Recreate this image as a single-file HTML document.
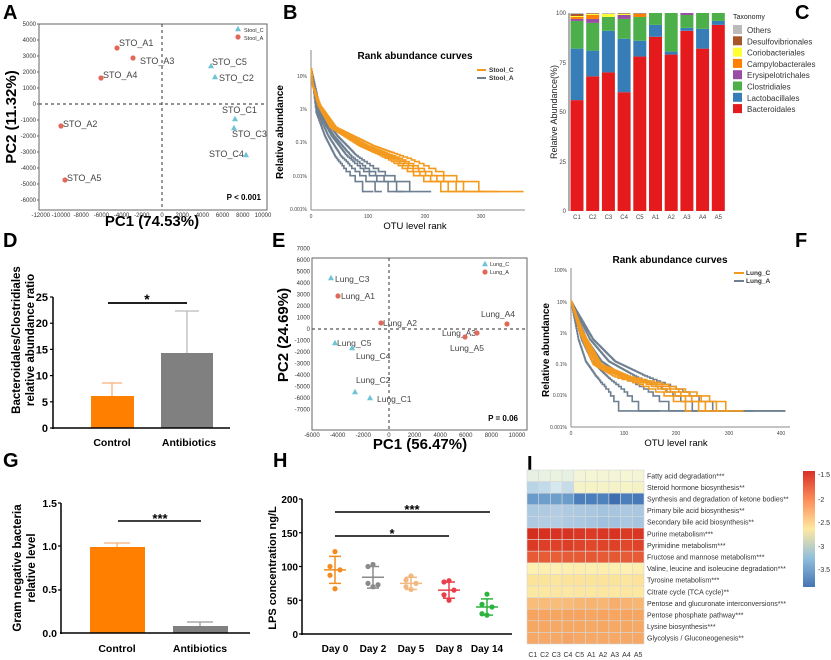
<!DOCTYPE html>
<html><head><meta charset="utf-8"><style>
body{margin:0;background:#fff}
svg{display:block;font-family:"Liberation Sans",Arial,sans-serif}
</style></head><body>
<svg id="s" width="831" height="660" viewBox="0 0 831 660" xmlns="http://www.w3.org/2000/svg">
<rect width="831" height="660" fill="#fff"/>
<g font-weight="bold" font-size="20" fill="#000">
<text x="3" y="19">A</text><text x="283" y="19">B</text><text x="795" y="19">C</text>
<text x="3" y="247">D</text><text x="272" y="247">E</text><text x="795" y="247">F</text>
<text x="3" y="467">G</text><text x="273" y="467">H</text><text x="527" y="470">I</text>
</g>

<!-- Panel A -->
<g>
<rect x="39" y="24" width="228" height="186" fill="none" stroke="#666" stroke-width="1"/>
<line x1="162" y1="24" x2="162" y2="210" stroke="#555" stroke-dasharray="3,3" stroke-width="1.2"/>
<line x1="39" y1="104" x2="267" y2="104" stroke="#555" stroke-dasharray="3,3" stroke-width="1.2"/>
<g font-size="6" fill="#333" text-anchor="end" id="aty"></g>
<g font-size="6" fill="#333" text-anchor="middle" id="atx"></g>
<g font-size="9" fill="#444">
<text x="119" y="46">STO_A1</text><text x="140" y="64">STO_A3</text><text x="103" y="78">STO_A4</text>
<text x="63" y="127">STO_A2</text><text x="67" y="181">STO_A5</text>
<text x="212" y="65">STO_C5</text><text x="219" y="81">STO_C2</text><text x="222" y="113">STO_C1</text>
<text x="232" y="137">STO_C3</text><text x="209" y="157">STO_C4</text>
</g>
<g fill="#e06a5a"><circle cx="117" cy="48" r="2.6"/><circle cx="133" cy="58" r="2.6"/><circle cx="101" cy="78" r="2.6"/><circle cx="61" cy="126" r="2.6"/><circle cx="65" cy="180" r="2.6"/><circle cx="238" cy="37" r="2.6"/></g>
<g fill="#6fc3d6" id="atri"></g>
<text x="244" y="32" font-size="5.5" fill="#333">Stool_C</text><text x="244" y="40" font-size="5.5" fill="#333">Stool_A</text>
<text x="261" y="200" font-size="8" font-weight="bold" text-anchor="end">P &lt; 0.001</text>
<text transform="translate(16,117) rotate(-90)" font-size="15" font-weight="bold" text-anchor="middle">PC2 (11.32%)</text>
<text x="152" y="226" font-size="15" font-weight="bold" text-anchor="middle">PC1 (74.53%)</text>
</g>

<!-- Panel B -->
<g>
<line x1="311" y1="50" x2="311" y2="210" stroke="#888"/>
<line x1="311" y1="210" x2="525" y2="210" stroke="#888"/>
<g id="bcur" fill="none" stroke-width="1.6"></g>
<g font-size="5" fill="#444" text-anchor="end">
<text x="307" y="78">10%</text><text x="307" y="111">1%</text><text x="307" y="144">0.1%</text><text x="307" y="178">0.01%</text><text x="307" y="211">0.001%</text>
</g>
<g font-size="5" fill="#444" text-anchor="middle"><text x="311" y="218">0</text><text x="368" y="218">100</text><text x="425" y="218">200</text><text x="481" y="218">300</text></g>
<text x="415" y="59" font-size="10" font-weight="bold" text-anchor="middle">Rank abundance curves</text>
<line x1="477" y1="70" x2="486" y2="70" stroke="#f39a1e" stroke-width="2"/><text x="489" y="72" font-size="6.5" font-weight="bold" fill="#333">Stool_C</text>
<line x1="477" y1="78" x2="486" y2="78" stroke="#6d7f90" stroke-width="2"/><text x="489" y="80" font-size="6.5" font-weight="bold" fill="#333">Stool_A</text>
<text transform="translate(283,132) rotate(-90)" font-size="10" font-weight="bold" text-anchor="middle">Relative abundance</text>
<text x="415" y="229" font-size="9.5" text-anchor="middle">OTU level rank</text>
</g>

<!-- Panel C -->
<g>
<g id="cbars"></g>
<line x1="569" y1="13" x2="569" y2="211" stroke="#333" stroke-width="0.8"/>
<g font-size="6" fill="#444" text-anchor="end">
<text x="566" y="213">0</text><text x="566" y="164">25</text><text x="566" y="114">50</text><text x="566" y="65">75</text><text x="566" y="15">100</text>
</g>
<g font-size="6" fill="#444" text-anchor="middle" id="cxl"></g>
<text transform="translate(557,112) rotate(-90)" font-size="9" fill="#222" text-anchor="middle">Relative Abundance(%)</text>
<text x="733" y="19" font-size="7" fill="#222">Taxonomy</text>
<g id="cleg"></g>
</g>

<!-- Panel D -->
<g>
<rect x="91" y="396" width="43" height="32" fill="#ff8000"/>
<rect x="161" y="353" width="52" height="75" fill="#808080"/>
<g stroke-width="1.3">
<line x1="112" y1="396" x2="112" y2="383" stroke="#f8b07a"/><line x1="102" y1="383" x2="122" y2="383" stroke="#f8b07a"/>
<line x1="187" y1="353" x2="187" y2="311" stroke="#bbb"/><line x1="175" y1="311" x2="199" y2="311" stroke="#bbb"/>
</g>
<line x1="53" y1="297" x2="53" y2="429" stroke="#000" stroke-width="1.5"/>
<line x1="52" y1="428" x2="230" y2="428" stroke="#000" stroke-width="1.5"/>
<g id="dty" font-size="11" font-weight="bold" text-anchor="end"></g>
<line x1="108" y1="303" x2="187" y2="303" stroke="#000" stroke-width="1.8"/>
<text x="147" y="304" font-size="14" font-weight="bold" text-anchor="middle">*</text>
<text x="112" y="446" font-size="10.5" font-weight="bold" text-anchor="middle">Control</text>
<text x="189" y="446" font-size="10.5" font-weight="bold" text-anchor="middle">Antibiotics</text>
<text transform="translate(20,340) rotate(-90)" font-size="11.5" font-weight="bold" text-anchor="middle">Bacteroidales/Clostridiales</text>
<text transform="translate(34,340) rotate(-90)" font-size="11.5" font-weight="bold" text-anchor="middle">relative abundance ratio</text>
</g>

<!-- Panel E -->
<g>
<rect x="312" y="258" width="215" height="172" fill="none" stroke="#666"/>
<line x1="389" y1="258" x2="389" y2="430" stroke="#555" stroke-dasharray="3,3" stroke-width="1.2"/>
<line x1="312" y1="329" x2="527" y2="329" stroke="#555" stroke-dasharray="3,3" stroke-width="1.2"/>
<g font-size="6" fill="#333" text-anchor="end" id="ety"></g>
<g font-size="6" fill="#333" text-anchor="middle" id="etx"></g>
<g font-size="8.5" fill="#444">
<text x="335" y="282">Lung_C3</text><text x="341" y="299">Lung_A1</text><text x="383" y="326">Lung_A2</text>
<text x="481" y="317">Lung_A4</text><text x="442" y="336">Lung_A3</text><text x="450" y="351">Lung_A5</text>
<text x="337" y="346">Lung_C5</text><text x="356" y="359">Lung_C4</text><text x="356" y="383">Lung_C2</text><text x="377" y="402">Lung_C1</text>
</g>
<g fill="#e06a5a"><circle cx="338" cy="296" r="2.6"/><circle cx="381" cy="323" r="2.6"/><circle cx="507" cy="324" r="2.6"/><circle cx="465" cy="337" r="2.6"/><circle cx="477" cy="333" r="2.6"/><circle cx="485" cy="272" r="2.6"/></g>
<g fill="#6fc3d6" id="etri"></g>
<text x="490" y="266" font-size="5.5" fill="#333">Lung_C</text><text x="490" y="274" font-size="5.5" fill="#333">Lung_A</text>
<text x="518" y="421" font-size="8" font-weight="bold" text-anchor="end">P = 0.06</text>
<text transform="translate(288,335) rotate(-90)" font-size="15" font-weight="bold" text-anchor="middle">PC2 (24.69%)</text>
<text x="420" y="449" font-size="15" font-weight="bold" text-anchor="middle">PC1 (56.47%)</text>
</g>

<!-- Panel F -->
<g>
<line x1="571" y1="268" x2="571" y2="427" stroke="#888"/>
<line x1="571" y1="427" x2="790" y2="427" stroke="#888"/>
<g id="fcur" fill="none" stroke-width="1.6"></g>
<g font-size="5" fill="#444" text-anchor="end">
<text x="567" y="272">100%</text><text x="567" y="304">10%</text><text x="567" y="335">1%</text><text x="567" y="366">0.1%</text><text x="567" y="397">0.01%</text><text x="567" y="429">0.001%</text>
</g>
<g font-size="5" fill="#444" text-anchor="middle"><text x="571" y="435">0</text><text x="624" y="435">100</text><text x="676" y="435">200</text><text x="729" y="435">300</text><text x="781" y="435">400</text></g>
<text x="670" y="263" font-size="10" font-weight="bold" text-anchor="middle">Rank abundance curves</text>
<line x1="734" y1="273" x2="744" y2="273" stroke="#f39a1e" stroke-width="2"/><text x="746" y="275" font-size="6.5" font-weight="bold" fill="#333">Lung_C</text>
<line x1="734" y1="281" x2="744" y2="281" stroke="#6d7f90" stroke-width="2"/><text x="746" y="283" font-size="6.5" font-weight="bold" fill="#333">Lung_A</text>
<text transform="translate(549,350) rotate(-90)" font-size="10" font-weight="bold" text-anchor="middle">Relative abundance</text>
<text x="676" y="446" font-size="9.5" text-anchor="middle">OTU level rank</text>
</g>

<!-- Panel G -->
<g>
<rect x="90" y="547" width="55" height="86" fill="#ff8000"/>
<rect x="173" y="626" width="55" height="7" fill="#808080"/>
<line x1="117" y1="547" x2="117" y2="543" stroke="#f8b07a" stroke-width="1.3"/><line x1="104" y1="543" x2="130" y2="543" stroke="#f8b07a" stroke-width="1.3"/>
<line x1="200" y1="626" x2="200" y2="622" stroke="#999" stroke-width="1.3"/><line x1="187" y1="622" x2="213" y2="622" stroke="#999" stroke-width="1.3"/>
<line x1="61" y1="503" x2="61" y2="634" stroke="#000" stroke-width="1.5"/>
<line x1="60" y1="633" x2="250" y2="633" stroke="#000" stroke-width="1.5"/>
<g font-size="10.5" font-weight="bold" text-anchor="end">
<text x="57" y="507">1.5</text><text x="57" y="550">1.0</text><text x="57" y="593">0.5</text><text x="57" y="637">0.0</text>
</g>
<g stroke="#000" stroke-width="1.2"><line x1="58" y1="503" x2="61" y2="503"/><line x1="58" y1="546" x2="61" y2="546"/><line x1="58" y1="590" x2="61" y2="590"/></g>
<line x1="118" y1="521" x2="201" y2="521" stroke="#000" stroke-width="1.6"/>
<text x="160" y="523" font-size="13" font-weight="bold" text-anchor="middle">***</text>
<text x="117" y="652" font-size="10.5" font-weight="bold" text-anchor="middle">Control</text>
<text x="200" y="652" font-size="10.5" font-weight="bold" text-anchor="middle">Antibiotics</text>
<text transform="translate(21,568) rotate(-90)" font-size="11.5" font-weight="bold" text-anchor="middle">Gram negative bacteria</text>
<text transform="translate(35,568) rotate(-90)" font-size="11.5" font-weight="bold" text-anchor="middle">relative level</text>
</g>

<!-- Panel H -->
<g>
<line x1="302" y1="499" x2="302" y2="635" stroke="#000" stroke-width="1.5"/>
<line x1="301" y1="634" x2="512" y2="634" stroke="#000" stroke-width="1.5"/>
<g font-size="10" font-weight="bold" text-anchor="end" id="hty"></g>
<g id="hpts"></g>
<line x1="335" y1="512" x2="490" y2="512" stroke="#000" stroke-width="1.6"/>
<text x="412" y="514" font-size="13" font-weight="bold" text-anchor="middle">***</text>
<line x1="335" y1="536" x2="449" y2="536" stroke="#000" stroke-width="1.6"/>
<text x="392" y="538" font-size="13" font-weight="bold" text-anchor="middle">*</text>
<g font-size="10" font-weight="bold" text-anchor="middle">
<text x="335" y="652">Day 0</text><text x="373" y="652">Day 2</text><text x="411" y="652">Day 5</text><text x="449" y="652">Day 8</text><text x="487" y="652">Day 14</text>
</g>
<text transform="translate(276,568) rotate(-90)" font-size="11" font-weight="bold" text-anchor="middle">LPS concentration ng/L</text>
</g>

<!-- Panel I -->
<g>
<g id="heat"></g>
<g font-size="7" fill="#333" id="hlab"></g>
<g font-size="7" fill="#333" id="hcol"></g>
<defs><linearGradient id="cb" x1="0" y1="0" x2="0" y2="1">
<stop offset="0" stop-color="#d73027"/><stop offset="0.25" stop-color="#fc8d59"/><stop offset="0.5" stop-color="#fee8a0"/><stop offset="0.75" stop-color="#91bfdb"/><stop offset="1" stop-color="#4575b4"/></linearGradient></defs>
<rect x="803" y="471" width="12" height="116" fill="url(#cb)"/>
<g font-size="7" fill="#333">
<text x="818" y="477">-1.5</text><text x="818" y="502">-2</text><text x="818" y="525">-2.5</text><text x="818" y="549">-3</text><text x="818" y="572">-3.5</text>
</g>
</g>
</svg>
<script>
var NS="http://www.w3.org/2000/svg";
function el(p,t,a,txt){var e=document.createElementNS(NS,t);for(var k in a)e.setAttribute(k,a[k]);if(txt!=null)e.textContent=txt;document.getElementById(p).appendChild(e);return e;}
function tri(p,x,y){el(p,"polygon",{points:(x)+","+(y-3.2)+" "+(x-3)+","+(y+2.2)+" "+(x+3)+","+(y+2.2)});}
for(var v=5000;v>=-6000;v-=1000){var y=104-v*0.016;el("aty","text",{x:36,y:y+2},v);el("aty","line",{x1:37,y1:y,x2:39,y2:y,stroke:"#666"});}
for(var v=-12000;v<=10000;v+=2000){var x=162+v*0.0101;el("atx","text",{x:x,y:217},v);}
[[211,66],[215,77],[235,119],[234,128],[246,155],[238,29]].forEach(function(p){tri("atri",p[0],p[1]);});
for(var v=7000;v>=-7000;v-=1000){var y=329-v*0.0115;el("ety","text",{x:310,y:y+2},v);}
for(var v=-6000;v<=10000;v+=2000){var x=312+(v+6000)*(205/16000);el("etx","text",{x:x,y:437},v);}
[[331,278],[335,343],[352,348],[355,392],[370,398],[485,264]].forEach(function(p){tri("etri",p[0],p[1]);});
function curve(g,kp,f,end,x0,sx,y1,dec,col){
 var q=0.0033,d="",prevY=null;
 for(var r=0;r<=end;r++){
  var rr=r/f,lp;
  if(rr<=kp[0][0])lp=kp[0][1];else{lp=kp[kp.length-1][1];for(var i=0;i<kp.length-1;i++){if(rr>=kp[i][0]&&rr<=kp[i+1][0]){var t=(rr-kp[i][0])/(kp[i+1][0]-kp[i][0]);lp=kp[i][1]+t*(kp[i+1][1]-kp[i][1]);break;}}}
  var p=Math.pow(10,lp);var n=Math.max(1,Math.round(p/q));if(p>0.05)n=p/q;p=n*q;
  var y=y1-dec*Math.log10(p),x=x0+r*sx;
  if(r==0)d="M"+x.toFixed(1)+","+y.toFixed(1);else{d+="L"+x.toFixed(1)+","+prevY.toFixed(1)+"L"+x.toFixed(1)+","+y.toFixed(1);}
  prevY=y;
 }
 el(g,"path",{d:d,stroke:col});
}
var bo=[[0,1.2],[3,0.7],[15,0.1],[40,-0.55],[100,-1.1],[160,-1.5],[220,-2.0],[300,-2.5]];
var bg=[[0,1.2],[15,-0.1],[40,-0.8],[70,-1.4],[100,-1.8],[130,-2.1],[170,-2.5]];
[[0.6,110],[0.75,125],[0.9,165],[1.0,175],[1.15,212]].forEach(function(c){curve("bcur",bg,c[0],c[1],311,0.567,109,33.3,"#6d7f90");});
[[0.85,255],[0.95,305],[1.0,330],[1.1,375],[0.9,280]].forEach(function(c){curve("bcur",bo,c[0],c[1],311,0.567,109,33.3,"#f39a1e");});
var fo=[[0,1.0],[20,0],[50,-1.0],[100,-1.4],[150,-1.6],[220,-2.0],[280,-2.5]];
var fg=[[0,1.0],[20,-0.2],[40,-0.9],[70,-1.4],[100,-1.8],[140,-2.5]];
[[0.7,170],[1.0,240],[1.45,350],[2.1,410],[1.8,410]].forEach(function(c){curve("fcur",fg,c[0],c[1],571,0.523,333,31.4,"#6d7f90");});
[[0.85,230],[0.95,265],[1.0,285],[1.08,305],[1.15,330]].forEach(function(c){curve("fcur",fo,c[0],c[1],571,0.523,333,31.4,"#f39a1e");});
var cols=["#e41a1c","#377eb8","#4daf4a","#984ea3","#ff7f00","#ffff33","#a65628","#bbbbbb"];
var data=[[56,26,14,1,1,0.5,1,0.5],[68,13,14,2,2,0.5,0.3,0.2],[70,21,7,0,0,1.5,0,0.5],[60,27,10,2,0,0.5,0.3,0.2],[78,8,12,0,1.5,0,0.3,0.2],[88,6,6,0,0,0,0,0],[79,1.5,19.5,0,0,0,0,0],[91,1.5,6.5,1,0,0,0,0],[82,10,8,0,0,0,0,0],[94,2,4,0,0,0,0,0]];
var names=["C1","C2","C3","C4","C5","A1","A2","A3","A4","A5"];
data.forEach(function(b,i){var cx=577+i*15.7,acc=0;b.forEach(function(v,j){if(v>0){el("cbars","rect",{x:cx-6.5,y:211-(acc+v)*1.98,width:13,height:v*1.98,fill:cols[j]});}acc+=v;});el("cxl","text",{x:cx,y:219},names[i]);});
var lg=["Others","Desulfovibrionales","Coriobacteriales","Campylobacterales","Erysipelotrichales","Clostridiales","Lactobacillales","Bacteroidales"];
var lc=["#bbbbbb","#a65628","#ffff33","#ff7f00","#984ea3","#4daf4a","#377eb8","#e41a1c"];
lg.forEach(function(n,i){var y=25+i*11.3;el("cleg","rect",{x:733,y:y,width:9,height:9,fill:lc[i]});el("cleg","text",{x:747,y:y+8,"font-size":"8","fill":"#333"},n);});
for(var v=0;v<=25;v+=5){var y=428-v*5.24;el("dty","text",{x:48,y:y+4},v);el("dty","line",{x1:50,y1:y,x2:53,y2:y,stroke:"#000","stroke-width":1.2});}
for(var v=0;v<=200;v+=50){var y=634-v*0.675;el("hty","text",{x:298,y:y+4},v);el("hty","line",{x1:299,y1:y,x2:302,y2:y,stroke:"#000","stroke-width":1.2});}
var hg=[[335,"#f28c1e",95,20,[122,100,95,87,67]],[373,"#8a8a8a",84,16,[103,100,73,75,70]],[411,"#f2b880",75,9,[86,80,75,70,66]],[449,"#e8404a",65,12,[79,77,65,58,50]],[487,"#2db33f",40,12,[59,44,40,30,28]]];
hg.forEach(function(g){var x=g[0],c=g[1],Y=function(v){return 634-v*0.675;};
 g[4].forEach(function(v,i){el("hpts","circle",{cx:x+[0,-5,5,-5,0][i],cy:Y(v),r:2.6,fill:c});});
 el("hpts","line",{x1:x-11,y1:Y(g[2]),x2:x+11,y2:Y(g[2]),stroke:c,"stroke-width":1.5});
 el("hpts","line",{x1:x,y1:Y(g[2]-g[3]),x2:x,y2:Y(g[2]+g[3]),stroke:c,"stroke-width":1.5});
 el("hpts","line",{x1:x-6,y1:Y(g[2]-g[3]),x2:x+6,y2:Y(g[2]-g[3]),stroke:c,"stroke-width":1.5});
 el("hpts","line",{x1:x-6,y1:Y(g[2]+g[3]),x2:x+6,y2:Y(g[2]+g[3]),stroke:c,"stroke-width":1.5});
});
var rows=[["Fatty acid degradation***",["#e6f1e4","#e8f2e2","#eaf3e0","#e6f1e4","#f3f5d6","#f5f6d4","#f4f5d5","#f3f5d6","#f5f6d4","#f4f5d5"]],
["Steroid hormone biosynthesis**",["#b8d5e7","#c2dbea","#d6e8ef","#c6dde9","#f5f3c6","#f6f3c4","#f5f3c6","#f4f2c8","#f6f3c4","#f5f3c6"]],
["Synthesis and degradation of ketone bodies**",["#6a9ccb","#6d9ecc","#6e9fcc","#6b9dcb","#4a7fbb","#4a7fbb","#4d82bc","#3f6fb0","#4a7fbb","#4579b8"]],
["Primary bile acid biosynthesis**",["#acc9e2","#afcbe3","#b3cee4","#afcbe3","#acc9e2","#a9c7e1","#a4c3df","#a7c5e0","#acc9e2","#a9c7e1"]],
["Secondary bile acid biosynthesis**",["#aecae3","#b1cce3","#b3cee4","#aecae3","#aac8e2","#a7c5e0","#9fc0de","#a2c2df","#aac8e2","#a7c5e0"]],
["Purine metabolism***",["#d42e1f","#d73020","#d73222","#d73222","#d93724","#db3a25","#d93724","#d73222","#db3a25","#d93724"]],
["Pyrimidine metabolism***",["#db3a25","#dd3e27","#de4028","#dd3e27","#df4329","#e1482b","#df4329","#de4028","#e1482b","#df4329"]],
["Fructose and mannose metabolism***",["#e65a35","#e65c36","#e75e37","#e65c36","#e65a35","#e55834","#e65a35","#e55834","#e65c36","#e65a35"]],
["Valine, leucine and isoleucine degradation***",["#fdf0b2","#fdefb0","#fdf0b2","#fdefb0","#fdeeae","#fdefb0","#fdeeae","#fdefb0","#fdf0b2","#fdeeae"]],
["Tyrosine metabolism***",["#fce39a","#fce39a","#fce59c","#fce39a","#fce29a","#fce39a","#fce29a","#fce39a","#fce59c","#fce29a"]],
["Citrate cycle (TCA cycle)**",["#fde8a2","#fde8a2","#fde6a0","#fde8a2","#fde6a0","#fde8a2","#fde6a0","#fde8a2","#fde6a0","#fde8a2"]],
["Pentose and glucuronate interconversions***",["#f9bd7a","#f9bb78","#f9bd7a","#f9bb78","#f8b673","#f8b370","#f8b673","#f7ad6b","#f8b370","#f8b673"]],
["Pentose phosphate pathway***",["#f6a45f","#f6a45f","#f6a661","#f6a45f","#f6a45f","#f6a661","#f6a45f","#f6a661","#f6a45f","#f6a661"]],
["Lysine biosynthesis***",["#f6a862","#f6a862","#f6a964","#f6a862","#f6a862","#f6a964","#f6a862","#f6a964","#f6a862","#f6a964"]],
["Glycolysis / Gluconeogenesis**",["#f6a866","#f6a866","#f6a866","#f5a464","#f6a866","#f6a866","#f6a866","#f6a866","#f6a866","#f6a866"]]];
var ch=11.6,cw=11.7;
rows.forEach(function(r,i){var y=470+i*ch;r[1].forEach(function(c,j){el("heat","rect",{x:527+j*cw,y:y,width:cw,height:ch,fill:c,stroke:"#d8d8d8","stroke-width":0.6});});el("hlab","text",{x:647,y:y+ch/2+2.5},r[0]);});
names.forEach(function(n,j){el("hcol","text",{x:527+j*cw+cw/2,y:657,"text-anchor":"middle"},n);});
</script>
</body></html>
